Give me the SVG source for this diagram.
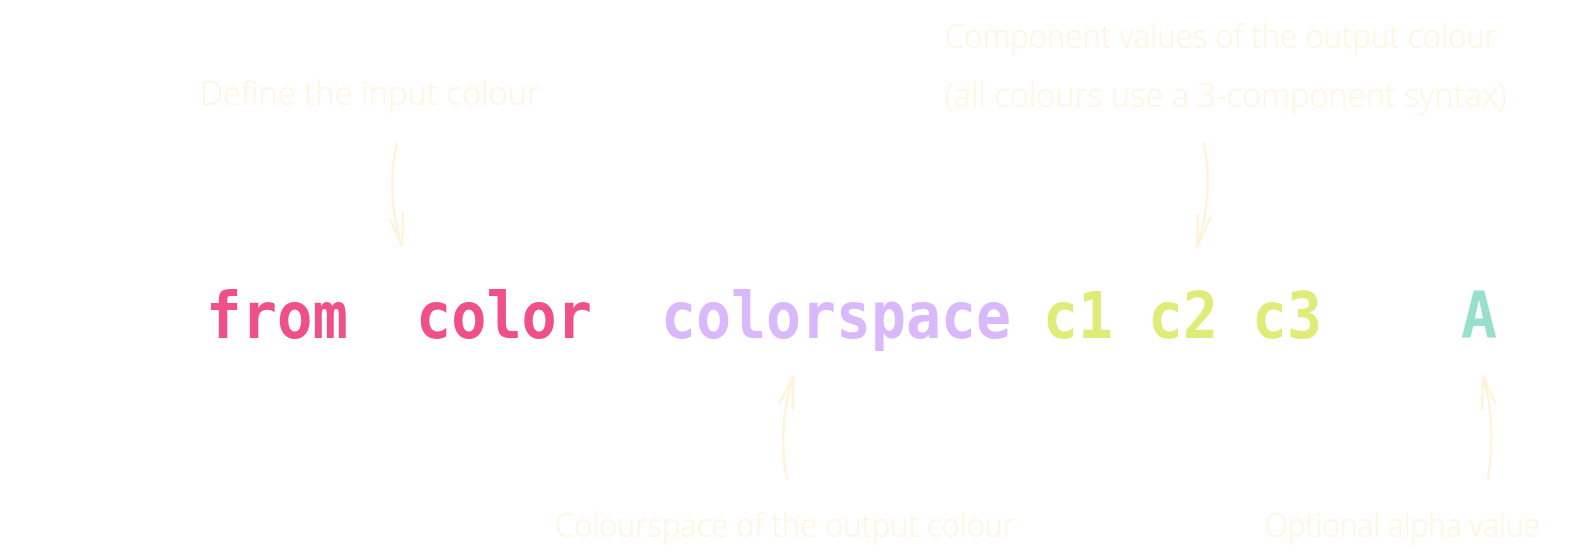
<svg xmlns="http://www.w3.org/2000/svg" width="1573" height="554" viewBox="0 0 1573 554">
<style>
.note{font-family:"Open Sans","DejaVu Sans",sans-serif;font-size:33px;font-weight:300;fill:#fff5e0}
.code{font-family:"DejaVu Sans Mono","Liberation Mono",monospace;font-size:64px;font-weight:bold}
.arr{fill:none;stroke:#fff3dc;stroke-width:2.5;stroke-linecap:round;stroke-linejoin:round}
</style>
<rect width="1573" height="554" fill="#ffffff"/>
<g id="label-input"><text class="note" x="200" y="105" textLength="340" lengthAdjust="spacingAndGlyphs">Define the input colour</text></g>
<g id="label-components"><text class="note" x="945" y="48" textLength="552" lengthAdjust="spacingAndGlyphs">Component values of the output colour</text>
<text class="note" x="945" y="107" textLength="562" lengthAdjust="spacingAndGlyphs">(all colours use a 3-component syntax)</text></g>
<g id="label-colorspace"><text class="note" x="555" y="537" textLength="460" lengthAdjust="spacingAndGlyphs">Colourspace of the output colour</text></g>
<g id="label-alpha"><text class="note" x="1265" y="537" textLength="275" lengthAdjust="spacingAndGlyphs">Optional alpha value</text></g>
<g id="code">
<text class="code" x="206" y="338" fill="#f0508a" textLength="142" lengthAdjust="spacingAndGlyphs">from</text>
<text class="code" x="416" y="338" fill="#f0508a" textLength="176" lengthAdjust="spacingAndGlyphs">color</text>
<text class="code" x="661" y="338" fill="#d9b9fc" textLength="350" lengthAdjust="spacingAndGlyphs">colorspace</text>
<text class="code" x="1043" y="338" fill="#e0ec7a" textLength="70" lengthAdjust="spacingAndGlyphs">c1</text>
<text class="code" x="1148" y="338" fill="#e0ec7a" textLength="70" lengthAdjust="spacingAndGlyphs">c2</text>
<text class="code" x="1252" y="338" fill="#e0ec7a" textLength="70" lengthAdjust="spacingAndGlyphs">c3</text>
<text class="code" x="1461" y="338" fill="#97e0cc" textLength="36" lengthAdjust="spacingAndGlyphs">A</text>
</g>
<g id="connectors">
<path class="arr" d="M397,143 Q386,190 401,245 M390,220 L402,245 L403,214"/>
<path class="arr" d="M1204,143 Q1214,195 1197,247 M1198,215 L1197,247 L1210,218"/>
<path class="arr" d="M787,479 Q777,430 793,376 M780,403 L793,376 L793,409"/>
<path class="arr" d="M1488,479 Q1497,425 1483,376 M1482,409 L1483,376 L1495,403"/>
</g>
</svg>
